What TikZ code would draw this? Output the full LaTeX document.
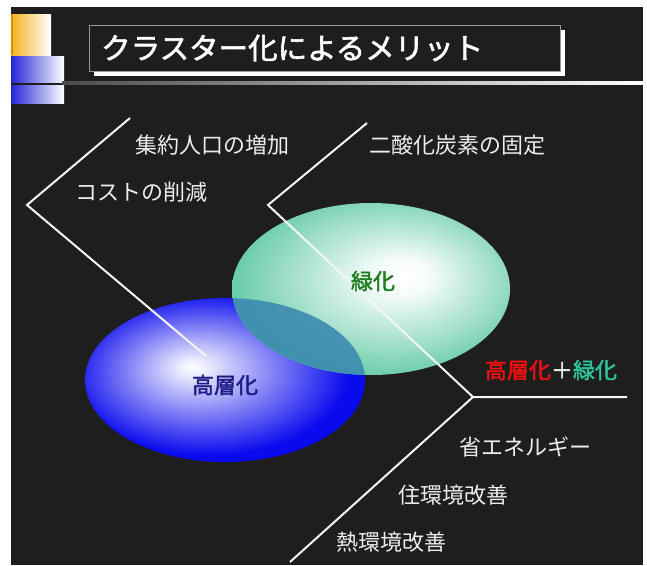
\documentclass[tikz,border=0pt]{standalone}
\usepackage{fontspec}
\newfontfamily\jp{Noto Sans CJK JP}
\newfontfamily\jpb[FakeBold=2]{Noto Sans CJK JP}
\usetikzlibrary{calc}
\definecolor{bgdark}{HTML}{1E1E1E}
\definecolor{gold}{HTML}{F2B21E}
\definecolor{goldedge}{HTML}{E08A00}
\definecolor{blk}{HTML}{2626D6}
\definecolor{mint}{HTML}{6CCDAA}
\definecolor{ballblue}{HTML}{0A0AEE}
\definecolor{lbltxt}{HTML}{EDEDED}
\definecolor{greentxt}{HTML}{1E7E22}
\definecolor{bluetxt}{HTML}{1C1C86}
\definecolor{redtxt}{HTML}{F01010}
\definecolor{tealtxt}{HTML}{2EC49A}
\definecolor{overlap}{HTML}{3C8AB0}
\pgfdeclareradialshading{blueball}{\pgfpoint{-6bp}{4bp}}{color(0bp)=(white); color(3bp)=(white!90!ballblue); color(25bp)=(ballblue); color(50bp)=(ballblue)}
\pgfdeclareradialshading{greenball}{\pgfpoint{6bp}{4bp}}{color(0bp)=(white); color(5bp)=(white!94!mint); color(27bp)=(mint); color(50bp)=(mint)}
\tikzset{
  conn/.style={draw=white!96!black, line width=2pt},
  lbl/.style={text=lbltxt, font={\jp\fontsize{22}{25}\selectfont}, inner sep=0pt},
  title/.style={text=white, font={\jpb\fontsize{29.5}{33}\selectfont}, inner sep=0pt, anchor=west},
}
\begin{document}
\begin{tikzpicture}[x=1pt,y=-1pt]
\useasboundingbox (0,0) rectangle (647,565);
\fill[white] (0,0) rectangle (647,565);
\fill[bgdark] (11,7) rectangle (643,565);
% corner blocks
\shade[left color=gold, right color=white] (11,14) rectangle (51,55);
\fill[goldedge] (11,14) rectangle (13,55);
\shade[left color=blk, right color=white] (11,56) rectangle (64,82);
\shade[left color=blk, right color=white] (11,85) rectangle (64,103);
% title rule
\shade[left color=bgdark!80!white, right color=white] (62,81) rectangle (643,84);
% title box
\draw[white, line width=4.5pt] (563,30) -- (563,74) -- (94,74);
\draw[gray!80!white, line width=1pt] (89,25) rectangle (560,71);
\node[title] (ttl) at (101,48) {クラスター化によるメリット};
% ellipses
\path[shading=blueball] (225,380) ellipse (140 and 82);
\path[shading=greenball] (371,289) ellipse (139 and 86);
\begin{scope}
  \clip (225,380) ellipse (140 and 82);
  \fill[overlap, opacity=0.9] (371,289) ellipse (139 and 86);
\end{scope}
% bracket coordinates
\coordinate (a1) at (130,118);
\coordinate (av) at (27,205);
\coordinate (a2) at (206,356);
\coordinate (b1) at (367,123);
\coordinate (bv) at (268,205);
\coordinate (cv) at (473,397);
\coordinate (c1) at (627,397);
\coordinate (c2) at (290,562);
\draw[conn] (a1) -- (av) -- (a2);
\draw[conn] (b1) -- (bv) -- (cv);
\draw[conn] (c1) -- (cv) -- (c2);
% labels
\node[lbl] (l1) at (212,145) {集約人口の増加};
\node[lbl] (l2) at (141,192) {コストの削減};
\node[lbl] (l3) at (457,145) {二酸化炭素の固定};
\node[lbl] (l4) at (525,447) {省エネルギー};
\node[lbl] (l5) at (453,495) {住環境改善};
\node[lbl] (l6) at (391,542) {熱環境改善};
\node[lbl, text=greentxt, font={\jpb\fontsize{22}{25}\selectfont}] (gk) at (373,281) {緑化};
\node[lbl, text=bluetxt, font={\jpb\fontsize{22}{25}\selectfont}] (kk) at (225,385) {高層化};
\node[lbl, font={\jpb\fontsize{22}{25}\selectfont}] (combo) at (551,370) {\textcolor{redtxt}{高層化}\textcolor{lbltxt}{＋}\textcolor{tealtxt}{緑化}};
\end{tikzpicture}
\end{document}
